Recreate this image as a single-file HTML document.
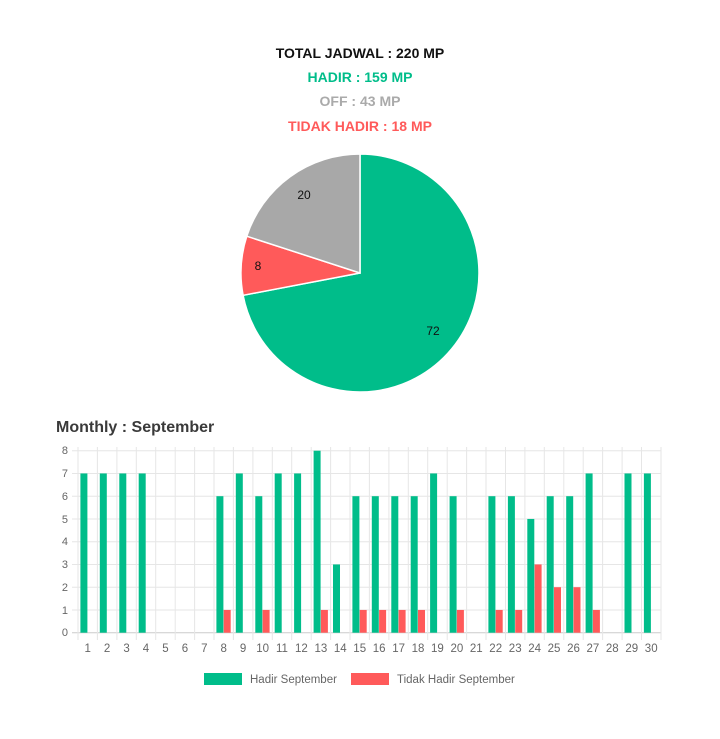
<!DOCTYPE html>
<html><head><meta charset="utf-8"><style>
html,body{margin:0;padding:0;background:#fff;width:720px;height:739px;overflow:hidden}
svg{display:block}
.t{font-family:"Liberation Sans",sans-serif;font-weight:bold;font-size:14px;text-anchor:middle}
.h{font-family:"Liberation Sans",sans-serif;font-size:13px;fill:#666}
</style></head><body>
<svg width="720" height="739" viewBox="0 0 720 739" xmlns="http://www.w3.org/2000/svg">
<text class="t" x="360" y="58" fill="#111">TOTAL JADWAL : 220 MP</text>
<text class="t" x="360" y="82" fill="#00bd8a">HADIR : 159 MP</text>
<text class="t" x="360" y="106" fill="#aaaaaa">OFF : 43 MP</text>
<text class="t" x="360" y="131" fill="#ff5a5a">TIDAK HADIR : 18 MP</text>

<g stroke="#fff" stroke-width="1.5">
<path d="M360,273 L360,154 A119,119 0 1 1 243.1,295.3 Z" fill="#00bd8a"/>
<path d="M360,273 L243.1,295.3 A119,119 0 0 1 246.8,236.2 Z" fill="#ff5a5a"/>
<path d="M360,273 L246.8,236.2 A119,119 0 0 1 360,154 Z" fill="#a8a8a8"/>
</g>
<g class="h" style="fill:#111;font-size:12px" text-anchor="middle">
<text x="433" y="335">72</text><text x="258" y="270">8</text><text x="304" y="199">20</text>
</g>

<text x="56" y="432" font-family="Liberation Sans,sans-serif" font-size="16" font-weight="bold" fill="#3a3a3a">Monthly : September</text>

<g stroke="#e6e6e6">
<line x1="72" x2="661" y1="450.7" y2="450.7"/>
<line x1="72" x2="661" y1="473.45" y2="473.45"/>
<line x1="72" x2="661" y1="496.2" y2="496.2"/>
<line x1="72" x2="661" y1="518.95" y2="518.95"/>
<line x1="72" x2="661" y1="541.7" y2="541.7"/>
<line x1="72" x2="661" y1="564.45" y2="564.45"/>
<line x1="72" x2="661" y1="587.2" y2="587.2"/>
<line x1="72" x2="661" y1="609.95" y2="609.95"/>
<line x1="72" x2="661" y1="632.7" y2="632.7" stroke="#ccc"/>
<line x1="78" x2="78" y1="447" y2="640"/>
<line x1="97.4" x2="97.4" y1="447" y2="640"/>
<line x1="116.9" x2="116.9" y1="447" y2="640"/>
<line x1="136.3" x2="136.3" y1="447" y2="640"/>
<line x1="155.7" x2="155.7" y1="447" y2="640"/>
<line x1="175.2" x2="175.2" y1="447" y2="640"/>
<line x1="194.6" x2="194.6" y1="447" y2="640"/>
<line x1="214" x2="214" y1="447" y2="640"/>
<line x1="233.4" x2="233.4" y1="447" y2="640"/>
<line x1="252.9" x2="252.9" y1="447" y2="640"/>
<line x1="272.3" x2="272.3" y1="447" y2="640"/>
<line x1="291.7" x2="291.7" y1="447" y2="640"/>
<line x1="311.2" x2="311.2" y1="447" y2="640"/>
<line x1="330.6" x2="330.6" y1="447" y2="640"/>
<line x1="350" x2="350" y1="447" y2="640"/>
<line x1="369.4" x2="369.4" y1="447" y2="640"/>
<line x1="388.9" x2="388.9" y1="447" y2="640"/>
<line x1="408.3" x2="408.3" y1="447" y2="640"/>
<line x1="427.7" x2="427.7" y1="447" y2="640"/>
<line x1="447.2" x2="447.2" y1="447" y2="640"/>
<line x1="466.6" x2="466.6" y1="447" y2="640"/>
<line x1="486" x2="486" y1="447" y2="640"/>
<line x1="505.5" x2="505.5" y1="447" y2="640"/>
<line x1="524.9" x2="524.9" y1="447" y2="640"/>
<line x1="544.3" x2="544.3" y1="447" y2="640"/>
<line x1="563.8" x2="563.8" y1="447" y2="640"/>
<line x1="583.2" x2="583.2" y1="447" y2="640"/>
<line x1="602.6" x2="602.6" y1="447" y2="640"/>
<line x1="622.1" x2="622.1" y1="447" y2="640"/>
<line x1="641.5" x2="641.5" y1="447" y2="640"/>
<line x1="661" x2="661" y1="447" y2="640"/>
</g>

<g class="h" text-anchor="end" style="font-size:11px">
<text x="68" y="454">8</text><text x="68" y="477">7</text><text x="68" y="500">6</text>
<text x="68" y="523">5</text><text x="68" y="545">4</text><text x="68" y="568">3</text>
<text x="68" y="591">2</text><text x="68" y="614">1</text><text x="68" y="636">0</text>
</g>

<g fill="#00bd8a">
<rect x="80.4" y="473.45" width="7" height="159.25"/>
<rect x="99.8" y="473.45" width="7" height="159.25"/>
<rect x="119.3" y="473.45" width="7" height="159.25"/>
<rect x="138.7" y="473.45" width="7" height="159.25"/>
<rect x="216.4" y="496.2" width="7" height="136.5"/>
<rect x="235.8" y="473.45" width="7" height="159.25"/>
<rect x="255.3" y="496.2" width="7" height="136.5"/>
<rect x="274.7" y="473.45" width="7" height="159.25"/>
<rect x="294.1" y="473.45" width="7" height="159.25"/>
<rect x="313.6" y="450.7" width="7" height="182"/>
<rect x="333" y="564.45" width="7" height="68.25"/>
<rect x="352.4" y="496.2" width="7" height="136.5"/>
<rect x="371.8" y="496.2" width="7" height="136.5"/>
<rect x="391.3" y="496.2" width="7" height="136.5"/>
<rect x="410.7" y="496.2" width="7" height="136.5"/>
<rect x="430.1" y="473.45" width="7" height="159.25"/>
<rect x="449.6" y="496.2" width="7" height="136.5"/>
<rect x="488.4" y="496.2" width="7" height="136.5"/>
<rect x="507.9" y="496.2" width="7" height="136.5"/>
<rect x="527.3" y="518.95" width="7" height="113.75"/>
<rect x="546.7" y="496.2" width="7" height="136.5"/>
<rect x="566.2" y="496.2" width="7" height="136.5"/>
<rect x="585.6" y="473.45" width="7" height="159.25"/>
<rect x="624.5" y="473.45" width="7" height="159.25"/>
<rect x="643.9" y="473.45" width="7" height="159.25"/>
</g>
<g fill="#ff5a5a">
<rect x="223.7" y="609.95" width="7" height="22.75"/>
<rect x="262.6" y="609.95" width="7" height="22.75"/>
<rect x="320.9" y="609.95" width="7" height="22.75"/>
<rect x="359.7" y="609.95" width="7" height="22.75"/>
<rect x="379.1" y="609.95" width="7" height="22.75"/>
<rect x="398.6" y="609.95" width="7" height="22.75"/>
<rect x="418" y="609.95" width="7" height="22.75"/>
<rect x="456.9" y="609.95" width="7" height="22.75"/>
<rect x="495.7" y="609.95" width="7" height="22.75"/>
<rect x="515.2" y="609.95" width="7" height="22.75"/>
<rect x="534.6" y="564.45" width="7" height="68.25"/>
<rect x="554" y="587.2" width="7" height="45.5"/>
<rect x="573.5" y="587.2" width="7" height="45.5"/>
<rect x="592.9" y="609.95" width="7" height="22.75"/>
</g>

<g class="h" text-anchor="middle" style="font-size:11.5px">
<text x="87.7" y="652">1</text><text x="107.1" y="652">2</text><text x="126.6" y="652">3</text>
<text x="146" y="652">4</text><text x="165.4" y="652">5</text><text x="184.9" y="652">6</text>
<text x="204.3" y="652">7</text><text x="223.7" y="652">8</text><text x="243.1" y="652">9</text>
<text x="262.6" y="652">10</text><text x="282" y="652">11</text><text x="301.4" y="652">12</text>
<text x="320.9" y="652">13</text><text x="340.3" y="652">14</text><text x="359.7" y="652">15</text>
<text x="379.1" y="652">16</text><text x="398.6" y="652">17</text><text x="418" y="652">18</text>
<text x="437.4" y="652">19</text><text x="456.9" y="652">20</text><text x="476.3" y="652">21</text>
<text x="495.7" y="652">22</text><text x="515.2" y="652">23</text><text x="534.6" y="652">24</text>
<text x="554" y="652">25</text><text x="573.5" y="652">26</text><text x="592.9" y="652">27</text>
<text x="612.3" y="652">28</text><text x="631.8" y="652">29</text><text x="651.2" y="652">30</text>
</g>

<rect x="204" y="673" width="38" height="12" fill="#00bd8a"/>
<text class="h" x="250" y="683" style="font-size:11.5px">Hadir September</text>
<rect x="351" y="673" width="38" height="12" fill="#ff5a5a"/>
<text class="h" x="397" y="683" style="font-size:11.5px">Tidak Hadir September</text>
</svg>
</body></html>
